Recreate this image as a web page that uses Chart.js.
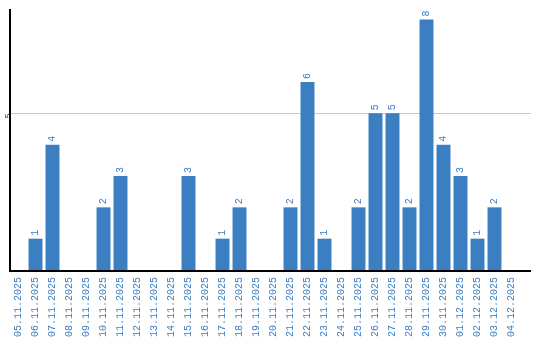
<!DOCTYPE html>
<html>
<head>
<meta charset="utf-8">
<script src="https://cdn.jsdelivr.net/npm/chart.js@4"></script>
<style>
    html, body { margin: 0; padding: 0; background: #fff; }
    canvas { display: block; }
</style>
</head>
<body>
<canvas id="grafico" width="540" height="340"></canvas>
<script>
// Fechas del eje X
const fechas = [
    '05.11.2025', '06.11.2025', '07.11.2025', '08.11.2025', '09.11.2025',
    '10.11.2025', '11.11.2025', '12.11.2025', '13.11.2025', '14.11.2025',
    '15.11.2025', '16.11.2025', '17.11.2025', '18.11.2025', '19.11.2025',
    '20.11.2025', '21.11.2025', '22.11.2025', '23.11.2025', '24.11.2025',
    '25.11.2025', '26.11.2025', '27.11.2025', '28.11.2025', '29.11.2025',
    '30.11.2025', '01.12.2025', '02.12.2025', '03.12.2025', '04.12.2025'
];

// Cantidades por dia
const cantidades = [0, 1, 4, 0, 0, 2, 3, 0, 0, 0, 3, 0, 1, 2, 0, 0, 2, 6, 1, 0, 2, 5, 5, 2, 8, 4, 3, 1, 2, 0];

// Marcas del eje Y
const marcasY = [5];

const azul = '#3b7ec2';
const fuente = '"Liberation Mono", "DejaVu Sans Mono", monospace';
const finLineas = 531; // las lineas del eje llegan un poco mas alla de las barras

// Plugin para escribir el valor encima de cada barra (girado)
const etiquetasBarras = {
    id: 'etiquetasBarras',
    afterDatasetsDraw(chart) {
        const ctx = chart.ctx;
        const meta = chart.getDatasetMeta(0);
        ctx.save();
        ctx.fillStyle = azul;
        ctx.font = '10px ' + fuente;
        ctx.textAlign = 'left';
        ctx.textBaseline = 'middle';
        meta.data.forEach((barra, i) => {
            const valor = cantidades[i];
            if (!valor) return;
            ctx.save();
            ctx.translate(barra.x, barra.y - 3);
            ctx.rotate(-Math.PI / 2);
            ctx.fillText(String(valor), 0, 0);
            ctx.restore();
        });
        ctx.restore();
    }
};

// Plugin para alargar la cuadricula y dibujar la linea del eje X
const alargarLineas = {
    id: 'alargarLineas',
    beforeDatasetsDraw(chart) {
        const ctx = chart.ctx;
        const area = chart.chartArea;
        const y = chart.scales.y;
        ctx.save();
        ctx.strokeStyle = '#c8c8c8';
        ctx.lineWidth = 1;
        marcasY.forEach(v => {
            const py = Math.round(y.getPixelForValue(v)) + 0.5;
            ctx.beginPath();
            ctx.moveTo(area.right, py);
            ctx.lineTo(finLineas, py);
            ctx.stroke();
        });
        ctx.restore();
    },
    afterDraw(chart) {
        const ctx = chart.ctx;
        const area = chart.chartArea;
        ctx.save();
        ctx.strokeStyle = '#000';
        ctx.lineWidth = 2;
        ctx.beginPath();
        ctx.moveTo(area.left - 1, area.bottom + 1);
        ctx.lineTo(finLineas, area.bottom + 1);
        ctx.stroke();
        ctx.restore();
    }
};

new Chart(document.getElementById('grafico'), {
    type: 'bar',
    data: {
        labels: fechas,
        datasets: [{
            data: cantidades,
            backgroundColor: azul,
            borderWidth: 0,
            categoryPercentage: 1,
            barPercentage: 0.82
        }]
    },
    options: {
        responsive: false,
        animation: false,
        layout: { padding: { top: 10, right: 20, left: 0, bottom: 0 } },
        plugins: {
            legend: { display: false },
            tooltip: { enabled: false }
        },
        scales: {
            x: {
                grid: { display: false, drawTicks: false },
                border: { display: false },
                ticks: {
                    color: azul,
                    font: { size: 10, family: fuente },
                    minRotation: 90,
                    maxRotation: 90,
                    autoSkip: false,
                    padding: 7
                },
                afterFit: s => { s.height = 70; }
            },
            y: {
                min: 0,
                max: 8.3,
                afterBuildTicks: eje => { eje.ticks = marcasY.map(v => ({ value: v })); },
                grid: { color: '#c8c8c8', drawTicks: false },
                border: { display: true, color: '#000', width: 2 },
                ticks: {
                    color: '#000',
                    font: { size: 8, family: fuente },
                    minRotation: 90,
                    maxRotation: 90,
                    padding: 2
                },
                afterFit: s => { s.width = 10; }
            }
        }
    },
    plugins: [etiquetasBarras, alargarLineas]
});
</script>
</body>
</html>
